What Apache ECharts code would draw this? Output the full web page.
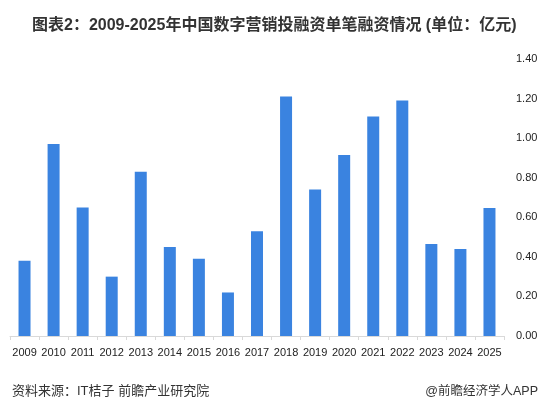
<!DOCTYPE html>
<html>
<head>
<meta charset="utf-8">
<script src="https://cdn.jsdelivr.net/npm/echarts@6/dist/echarts.min.js"></script>
<style>
  html, body { margin: 0; padding: 0; background: #fff; }
  #main { width: 549px; height: 407px; }
</style>
</head>
<body>
<div id="main"></div>
<script>
// 年份
var years = ['2009', '2010', '2011', '2012', '2013', '2014', '2015', '2016', '2017',
  '2018', '2019', '2020', '2021', '2022', '2023', '2024', '2025'];
// 单笔融资（亿元）
var perDeal = [0.38, 0.97, 0.65, 0.30, 0.83, 0.45, 0.39, 0.22, 0.53,
  1.21, 0.74, 0.915, 1.11, 1.19, 0.465, 0.44, 0.647];

var chart = echarts.init(document.getElementById('main'));
chart.setOption({
  backgroundColor: '#fff',
  animation: false,
  title: [{
    text: '图表2：2009-2025年中国数字营销投融资单笔融资情况 (单位：亿元)',
    left: 27, top: 13,
    textStyle: { fontSize: 16, fontWeight: 'bold', color: '#333', fontFamily: 'Arial, "Noto Sans CJK SC"' }
  }, {
    text: '资料来源：IT桔子 前瞻产业研究院',
    left: 7, top: 380,
    textStyle: { fontSize: 13, fontWeight: 'normal', color: '#333', fontFamily: 'Arial, "Noto Sans CJK SC"' }
  }, {
    text: '@前瞻经济学人APP',
    right: 6, top: 380,
    textStyle: { fontSize: 12.5, fontWeight: 'normal', color: '#333', fontFamily: 'Arial, "Noto Sans CJK SC"' }
  }],
  grid: { left: 10, right: 45, top: 59, bottom: 71, containLabel: false },
  xAxis: {
    type: 'category',
    data: years,
    axisLine: { lineStyle: { color: '#d9d9d9' } },
    axisTick: { show: true, length: 4, lineStyle: { color: '#d9d9d9' } },
    axisLabel: { color: '#222', fontSize: 11, margin: 11, interval: 0, fontFamily: 'Arial' }
  },
  yAxis: {
    type: 'value',
    position: 'right',
    min: 0, max: 1.4, interval: 0.2,
    axisLine: { show: false },
    axisTick: { show: false },
    splitLine: { show: false },
    axisLabel: {
      color: '#222', fontSize: 11, margin: 12, fontFamily: 'Arial',
      formatter: function (v) { return v.toFixed(2); }
    }
  },
  series: [{
    type: 'bar',
    data: perDeal,
    barWidth: 12,
    itemStyle: { color: '#3a83e0' }
  }]
});
</script>
</body>
</html>
